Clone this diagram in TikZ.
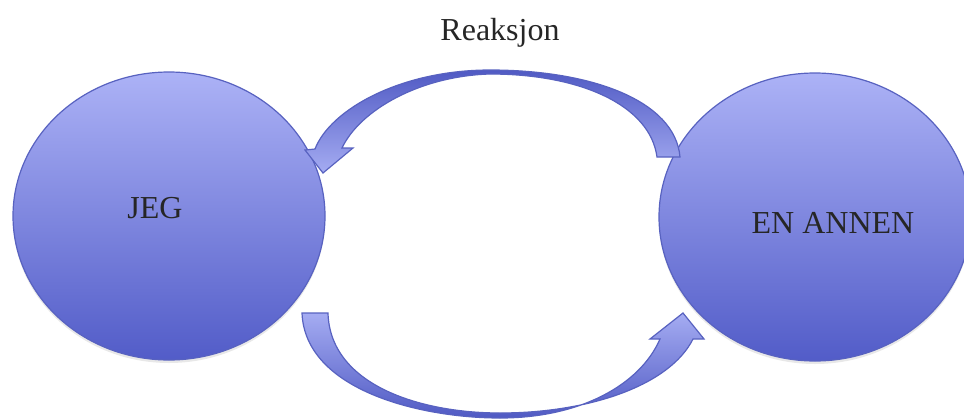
\documentclass[tikz,border=0pt]{standalone}
\usepackage{fontspec}
\setmainfont{Liberation Serif}
\usetikzlibrary{shapes.geometric,shadows}

\definecolor{blobtop}{RGB}{172,178,246}
\definecolor{blobbot}{RGB}{82,92,200}
\definecolor{blobline}{RGB}{88,98,192}
\definecolor{armdark}{RGB}{80,90,196}
\definecolor{armlight}{RGB}{165,172,242}

\tikzset{
  blob/.style={ellipse,draw=blobline,line width=0.6pt,top color=blobtop,bottom color=blobbot,
    minimum width=156pt,minimum height=144pt,
    drop shadow={opacity=0.18,shadow xshift=0pt,shadow yshift=-1.5pt}},
  lbl/.style={font=\fontsize{16}{19}\selectfont,text=black!85,anchor=base,inner sep=0pt},
  bandarrow/.style={draw=blobline,line width=0.6pt,line join=miter}
}

\begin{document}
\begin{tikzpicture}[x=0.5pt,y=-0.5pt]
  \useasboundingbox (0,0) rectangle (964,418);

  % the two circles
  \node[blob] (jeg) at (169,216) {};
  \node[blob] (annen) at (815,217) {};
  \node[lbl] (jegtxt) at (155,218) {JEG};
  \node[lbl] (annentxt) at (833,233) {EN ANNEN};

  % label over the top arrow
  \node[lbl] (reaksjon) at (500,40) {Reaksjon};

  % top arrow, from EN ANNEN back to JEG
  \draw[bandarrow,top color=armdark,bottom color=armlight]
    (680,157) .. controls (675,100) and (590,70) .. (490,70)
    .. controls (400,70) and (330,110) .. (315,149)
    -- (305,150) -- (323,173) -- (353,148) -- (342,148)
    .. controls (360,110) and (420,76) .. (490,74)
    .. controls (580,74) and (650,105) .. (657,157) -- cycle;

  % bottom arrow, from JEG to EN ANNEN
  \draw[bandarrow,top color=armlight,bottom color=armdark]
    (302,313) .. controls (305,390) and (420,418) .. (500,418)
    .. controls (580,418) and (640,385) .. (660,339)
    -- (650,339) -- (683,313) -- (704,339) -- (693,339)
    .. controls (670,385) and (590,413) .. (500,413)
    .. controls (420,413) and (330,385) .. (328,313) -- cycle;

\end{tikzpicture}
\end{document}
